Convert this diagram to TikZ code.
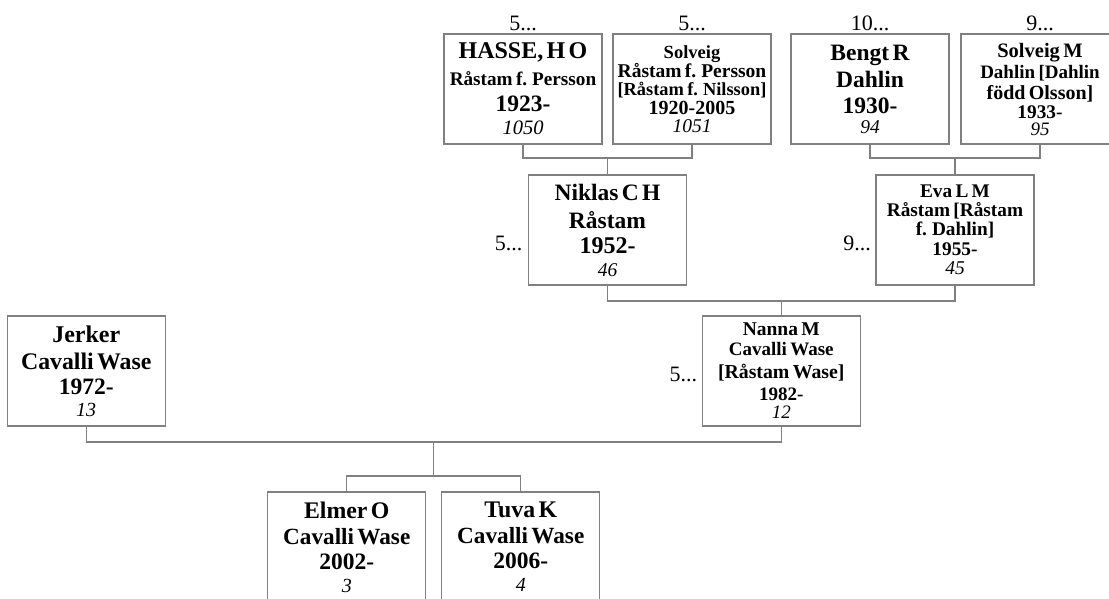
\documentclass[tikz,border=0pt]{standalone}
\usepackage{fontspec}
\setmainfont{Liberation Serif}
\usetikzlibrary{positioning,calc}

\newcommand{\pl}[3]{{\fontsize{#1}{#2}\selectfont\noindent\makebox[0pt]{#3}\par}}
\newcommand{\pn}[3]{{\fontsize{#1}{#2}\selectfont\mdseries\itshape\noindent\makebox[0pt]{#3}\par}}

\tikzset{
  person/.style={draw=gray, line width=1.2pt, minimum width=158pt, minimum height=110pt,
    text width=158pt, align=center, inner sep=0pt, outer sep=0pt, font=\bfseries},
  gen/.style={inner sep=1pt, font=\fontsize{22}{22}\selectfont},
  link/.style={draw=gray, line width=1.2pt}
}

\begin{document}
\begin{tikzpicture}[x=1pt, y=1pt]
  \useasboundingbox (0,0) rectangle (1109,598);
  \clip (0,0) rectangle (1109,598);

  % Persons
  \node[person] (hasse) at (523,509) {\pl{24}{27}{HASSE, H O}\pl{19.2}{27}{Råstam f. Persson}\pl{23.5}{26}{1923-}\pn{20.5}{23}{1050}};
  \node[person, right=11pt of hasse] (solveig) {\pl{18.5}{19}{Solveig}\pl{19.5}{19}{Råstam f. Persson}\pl{18.4}{18}{[Råstam f. Nilsson]}\pl{20}{19}{1920-2005}\pn{19.5}{18}{1051}};
  \node[person, right=20pt of solveig] (bengt) {\pl{23.5}{27}{Bengt R}\pl{23.5}{27}{Dahlin}\pl{23.5}{26}{1930-}\pn{19.5}{20}{94}};
  \node[person, right=12pt of bengt] (solveigm) {\pl{20.5}{21}{Solveig M}\pl{19}{21}{Dahlin [Dahlin}\pl{20}{21}{född Olsson]}\pl{19.3}{19}{1933-}\pn{19}{17}{95}};

  \node[person, anchor=north, yshift=-31pt] (niklas) at ($(hasse.south)!0.5!(solveig.south)$) {\pl{23.5}{28}{Niklas C H}\pl{23.5}{28}{Råstam}\pl{24}{25}{1952-}\pn{19.5}{23}{46}};
  \node[person, anchor=north, yshift=-31pt] (eva) at ($(bengt.south)!0.5!(solveigm.south)$) {\pl{19.3}{19}{Eva L M}\pl{19.3}{19}{Råstam [Råstam}\pl{19.3}{19}{f. Dahlin]}\pl{19.3}{20}{1955-}\pn{19.5}{19}{45}};

  \node[person, anchor=north, yshift=-31pt] (nanna) at ($(niklas.south)!0.5!(eva.south)$) {\pl{19.5}{20}{Nanna M}\pl{19}{20}{Cavalli Wase}\pl{19.8}{23}{[Råstam Wase]}\pl{19}{22}{1982-}\pn{19}{18}{12}};
  \node[person, left=537pt of nanna] (jerker) {\pl{24}{27}{Jerker}\pl{23.8}{27}{Cavalli Wase}\pl{23.5}{25}{1972-}\pn{20}{22}{13}};

  \coordinate (fam) at ($(jerker.south)!0.5!(nanna.south)$);
  \node[person, anchor=north east] (elmer) at ([xshift=-8pt, yshift=-66pt]fam) {\pl{23.8}{26}{Elmer O}\pl{23.2}{26}{Cavalli Wase}\pl{23.5}{25}{2002-}\pn{20}{23}{3}};
  \node[person, right=16pt of elmer] (tuva) {\pl{23.8}{26}{Tuva K}\pl{23.2}{26}{Cavalli Wase}\pl{23.5}{25}{2006-}\pn{20}{23}{4}};

  % Generation labels
  \node[gen, above=2pt of hasse] (ghasse) {5...};
  \node[gen, above=2pt of solveig] (gsolveig) {5...};
  \node[gen, above=2pt of bengt] (gbengt) {10...};
  \node[gen, above=2pt of solveigm] (gsolveigm) {9...};
  \node[gen, left=5pt of niklas, yshift=-13.5pt] (gniklas) {5...};
  \node[gen, left=4pt of eva, yshift=-13.5pt] (geva) {9...};
  \node[gen, left=4pt of nanna, yshift=-3pt] (gnanna) {5...};

  % Links
  \draw[link] (hasse.south) -- ++(0,-14) coordinate (hs) -| (solveig.south);
  \draw[link] (niklas.north) -- (niklas.north |- hs);
  \draw[link] (bengt.south) -- ++(0,-14) coordinate (bs) -| (solveigm.south);
  \draw[link] (eva.north) -- (eva.north |- bs);
  \draw[link] (niklas.south) -- ++(0,-16) coordinate (ne) -| (eva.south);
  \draw[link] (nanna.north) -- (nanna.north |- ne);
  \draw[link] (jerker.south) -- ++(0,-16) coordinate (jn) -| (nanna.south);
  \draw[link] (elmer.north) -- ++(0,16) coordinate (et) -| (tuva.north);
  \draw[link] (fam |- jn) -- (fam |- et);
\end{tikzpicture}
\end{document}
